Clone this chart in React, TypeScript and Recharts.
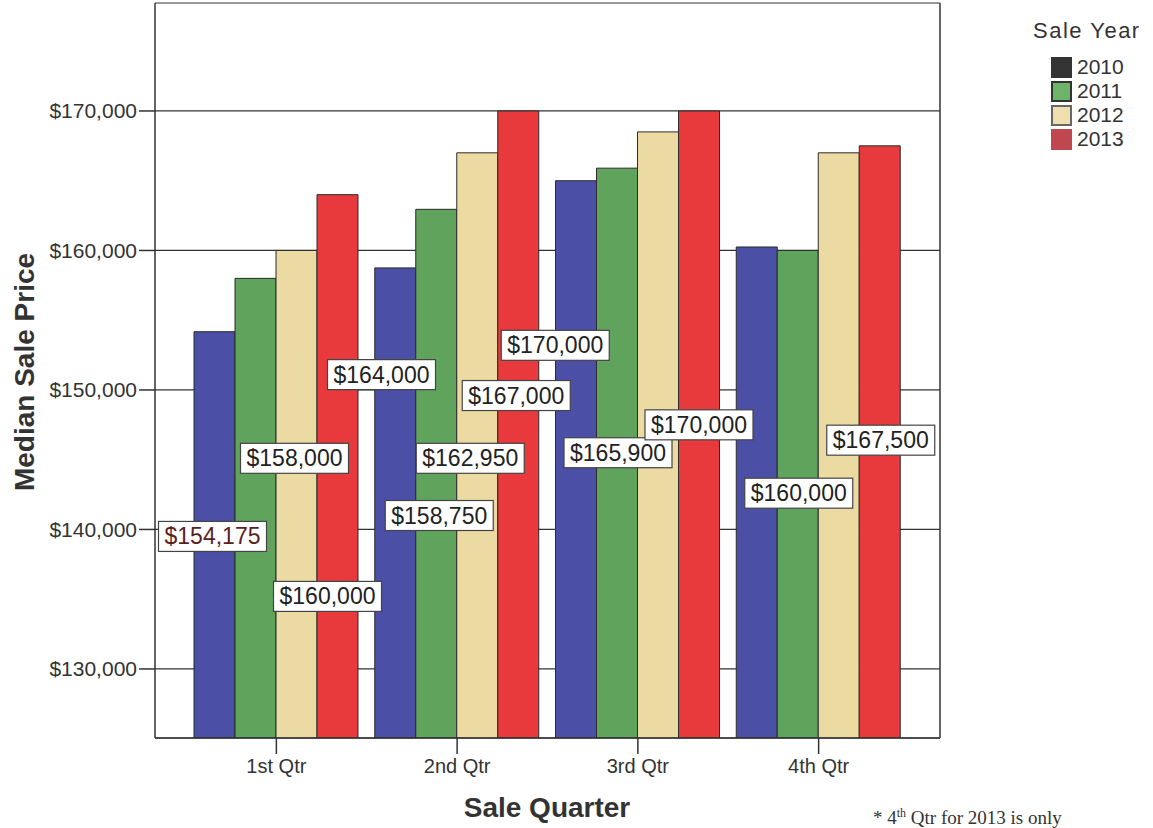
import React from "react";
import { BarChart, Bar, XAxis, YAxis, CartesianGrid, LabelList } from "recharts";

// Median sale price by quarter, one series per year
const QUARTERS = ["1st Qtr", "2nd Qtr", "3rd Qtr", "4th Qtr"];
const YEARS = ["2010", "2011", "2012", "2013"];
const PRICE_2010 = [154175, 158750, 165000, 160250];
const PRICE_2011 = [158000, 162950, 165900, 160000];
const PRICE_2012 = [160000, 167000, 168500, 167000];
const PRICE_2013 = [164000, 170000, 170000, 167500];
const Y_TICKS = [130000, 140000, 150000, 160000, 170000];

const SERIES = [PRICE_2010, PRICE_2011, PRICE_2012, PRICE_2013];
const COLORS = ["#4b4fa6", "#5fa35c", "#ebdba3", "#e8393c"];

const DOMAIN_MIN = 125050;
const DOMAIN_MAX = 177740;

// where each value tag sits: [horizontal nudge px, price level of tag centre]; null = not shown
const TAG_SPOTS: ([number, number] | null)[][] = [
  [[-2, 139500], [44, 141000], null, null],
  [[39, 145100], [34, 145100], [1, 145500], [1, 142600]],
  [[31, 135200], [39, 149600], null, null],
  [[44, 151100], [37, 153200], [0, 147500], [1, 146400]],
];

const data = QUARTERS.map((quarter, i) => {
  const row: Record<string, any> = { quarter };
  YEARS.forEach((y, s) => (row["y" + y] = SERIES[s][i]));
  return row;
});

const money = (v: number) => "$" + v.toLocaleString("en-US");
const FONT = "'Liberation Sans', Arial, sans-serif";
const INK = "#333";

function PriceTag(props: any) {
  const { index, series } = props;
  const vb = props.viewBox || props;
  const spot = TAG_SPOTS[series][index];
  if (!spot) return null;
  const value = SERIES[series][index];
  const [dx, level] = spot;
  const base = vb.y + vb.height;
  const perUnit = vb.height / (value - DOMAIN_MIN);
  const cy = base - (level - DOMAIN_MIN) * perUnit;
  const cx = vb.x + vb.width / 2 + dx;
  return (
    <g>
      <rect x={cx - 54} y={cy - 15} width={108} height={30} fill="#fff" stroke="#444" strokeWidth={1.2} />
      <text
        x={cx}
        y={cy + 8}
        textAnchor="middle"
        fontFamily={FONT}
        fontSize={23}
        fill={series === 0 && index === 0 ? "#5a1f22" : "#222"}
      >
        {money(value)}
      </text>
    </g>
  );
}

const SWATCH = [
  { fill: "#333", border: "#333" },
  { fill: "#6db36a", border: "#333" },
  { fill: "#efdfae", border: "#666" },
  { fill: "#c0464f", border: "#c0464f" },
];

export default function App() {
  return (
    <div style={{ position: "absolute", left: 0, top: 0, width: 1153, height: 828, background: "#fff", fontFamily: FONT }}>
      <BarChart
        width={1153}
        height={828}
        data={data}
        margin={{ top: 3, right: 212, bottom: 0, left: 0 }}
        barCategoryGap={8}
        barGap={0}
      >
        <CartesianGrid vertical={false} stroke={INK} strokeWidth={1.2} />
        <XAxis
          dataKey="quarter"
          height={90}
          padding={{ left: 31, right: 31 }}
          tickSize={16}
          tickMargin={5}
          stroke={INK}
          strokeWidth={1.5}
          tick={{ fill: INK, fontSize: 20, fontFamily: FONT }}
        />
        <XAxis xAxisId="top" dataKey="quarter" orientation="top" height={0} tick={false} tickLine={false} stroke={INK} strokeWidth={1.5} />
        <YAxis
          width={155}
          domain={[DOMAIN_MIN, DOMAIN_MAX]}
          allowDataOverflow
          ticks={Y_TICKS}
          tickFormatter={money}
          tickSize={16}
          tickMargin={2}
          stroke={INK}
          strokeWidth={1.5}
          tick={{ fill: INK, fontSize: 21, fontFamily: FONT }}
        />
        <YAxis
          yAxisId="right"
          orientation="right"
          width={1}
          domain={[DOMAIN_MIN, DOMAIN_MAX]}
          allowDataOverflow
          tick={false}
          tickLine={false}
          stroke={INK}
          strokeWidth={1.5}
        />
        {YEARS.map((y, s) => (
          <Bar
            key={y}
            dataKey={"y" + y}
            fill={COLORS[s]}
            stroke="#2b2b2b"
            strokeWidth={1}
            isAnimationActive={false}
          >
            <LabelList dataKey={"y" + y} content={(p: any) => <PriceTag {...p} series={s} />} />
          </Bar>
        ))}
      </BarChart>

      {/* axis titles */}
      <div
        style={{
          position: "absolute",
          left: 547,
          top: 808,
          transform: "translate(-50%, -50%)",
          fontSize: 28,
          fontWeight: "bold",
          color: INK,
          whiteSpace: "nowrap",
        }}
      >
        Sale Quarter
      </div>
      <div
        style={{
          position: "absolute",
          left: 25,
          top: 372,
          transform: "translate(-50%, -50%) rotate(-90deg)",
          fontSize: 28,
          fontWeight: "bold",
          color: INK,
          whiteSpace: "nowrap",
        }}
      >
        Median Sale Price
      </div>

      {/* legend */}
      <div style={{ position: "absolute", left: 1033, top: 18, color: INK }}>
        <div style={{ fontSize: 22, letterSpacing: 1.5, marginBottom: 11 }}>Sale Year</div>
        {YEARS.map((y, s) => (
          <div key={y} style={{ display: "flex", alignItems: "center", height: 24, marginLeft: 18 }}>
            <span
              style={{
                display: "inline-block",
                width: 17,
                height: 17,
                background: SWATCH[s].fill,
                border: `2px solid ${SWATCH[s].border}`,
                marginRight: 5,
              }}
            />
            <span style={{ fontSize: 21 }}>{y}</span>
          </div>
        ))}
      </div>

      {/* footnote */}
      <div
        style={{
          position: "absolute",
          left: 873,
          top: 806,
          fontFamily: "'Liberation Serif', 'Times New Roman', serif",
          fontSize: 19,
          color: INK,
          whiteSpace: "nowrap",
        }}
      >
        * 4<sup style={{ fontSize: 12 }}>th</sup> Qtr for 2013 is only
      </div>
    </div>
  );
}
